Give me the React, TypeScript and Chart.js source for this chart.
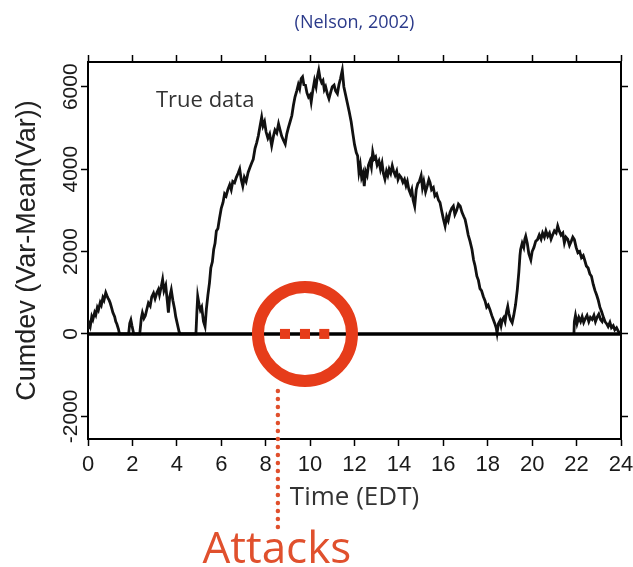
import React, { useEffect, useRef } from "react";
import { Chart, registerables } from "chart.js";

Chart.register(...registerables);

// ---------- data ----------
const chartTitle = "(Nelson, 2002)";
const xTitle = "Time (EDT)";
const yTitle = "Cumdev (Var-Mean(Var))";
const seriesLabel = "True data";
const attackLabel = "Attacks";

const xMin = 0;
const xMax = 24;
const xTicks: number[] = [0, 2, 4, 6, 8, 10, 12, 14, 16, 18, 20, 22, 24];
const yMin = -2550;
const yMax = 6600;
const yTicks: number[] = [-2000, 0, 2000, 4000, 6000];

// [hour, cumdev]
const trueData: number[][] = [
  [0, 120], [0.05, 250], [0.1, 180], [0.17, 420], [0.22, 350], [0.3, 520], [0.35, 460], [0.42, 640], [0.47, 580],
  [0.55, 760], [0.6, 700], [0.67, 880], [0.72, 820], [0.8, 1000], [0.85, 930], [0.9, 870], [0.95, 820], [1.0, 750],
  [1.07, 620], [1.12, 520], [1.2, 420], [1.25, 300], [1.3, 240], [1.37, 120], [1.42, 0],
  [1.83, 0], [1.88, 260], [1.93, 340], [1.98, 200], [2.06, 0], [2.33, 0],
  [2.4, 380], [2.45, 510], [2.52, 380], [2.58, 440], [2.65, 600], [2.72, 750], [2.8, 680], [2.87, 900], [2.95, 990],
  [3.02, 860], [3.1, 1000], [3.17, 1080], [3.22, 950], [3.3, 1150], [3.36, 1320], [3.42, 1050], [3.5, 1180],
  [3.57, 800], [3.62, 520], [3.68, 900], [3.75, 1070], [3.82, 820], [3.9, 600], [3.95, 420], [4.02, 250], [4.1, 60], [4.15, 0],
  [4.86, 0],
  [4.9, 500], [4.94, 910], [5.0, 720], [5.06, 580], [5.12, 650], [5.2, 300], [5.27, 180], [5.33, 600], [5.4, 950],
  [5.47, 1240], [5.53, 1600], [5.6, 1750], [5.66, 2050], [5.72, 2200], [5.78, 2500], [5.85, 2560], [5.92, 2800],
  [6.0, 3050], [6.08, 3190], [6.15, 3400], [6.22, 3350], [6.3, 3510], [6.38, 3620], [6.45, 3500], [6.52, 3700],
  [6.6, 3670], [6.68, 3800], [6.76, 3900], [6.83, 4000], [6.9, 3750], [6.97, 3590], [7.04, 3800], [7.12, 3700],
  [7.21, 3920], [7.3, 4050], [7.37, 4150], [7.44, 4240], [7.52, 4500], [7.6, 4650], [7.67, 4810], [7.75, 5050],
  [7.82, 5260], [7.88, 5050], [7.95, 5150], [8.02, 4900], [8.1, 4750], [8.18, 4850], [8.27, 4570], [8.35, 4800],
  [8.42, 4950], [8.5, 4880], [8.58, 5100], [8.65, 4950], [8.72, 4800], [8.8, 4700], [8.88, 4610], [8.95, 4850],
  [9.02, 5000], [9.1, 5150], [9.18, 5300], [9.25, 5550], [9.32, 5750], [9.4, 5900], [9.47, 6050], [9.53, 5950],
  [9.6, 6200], [9.66, 6240], [9.72, 6050], [9.79, 6040], [9.86, 5850], [9.93, 5750], [10.0, 5800], [10.05, 5630],
  [10.12, 5900], [10.2, 6150], [10.27, 6000], [10.33, 6250], [10.39, 6400], [10.45, 6200], [10.52, 6100],
  [10.58, 6150], [10.64, 5930], [10.7, 6000], [10.78, 5820], [10.85, 5710], [10.92, 5850], [11.0, 6000],
  [11.08, 6040], [11.15, 5900], [11.23, 5830], [11.3, 6050], [11.37, 6200], [11.45, 6400], [11.52, 6000],
  [11.6, 5800], [11.68, 5600], [11.76, 5400], [11.85, 5150], [11.93, 4850], [12.0, 4600], [12.08, 4400],
  [12.14, 4325], [12.2, 3925], [12.26, 4100], [12.32, 3800], [12.38, 3900], [12.44, 3590], [12.5, 3950],
  [12.57, 3850], [12.63, 4100], [12.7, 4200], [12.76, 4050], [12.82, 4410], [12.88, 4250], [12.95, 4300],
  [13.02, 4100], [13.1, 4200], [13.17, 4000], [13.24, 4150], [13.3, 3900], [13.37, 3755], [13.44, 3950],
  [13.5, 3850], [13.56, 4000], [13.63, 3900], [13.7, 4080], [13.76, 3950], [13.83, 3850], [13.9, 3950],
  [13.96, 3750], [14.03, 3850], [14.1, 3800], [14.18, 3680], [14.25, 3750], [14.32, 3600], [14.38, 3700],
  [14.45, 3500], [14.52, 3400], [14.58, 3500], [14.64, 3250], [14.71, 3100], [14.78, 3500], [14.85, 3650],
  [14.92, 3700], [15.0, 3840], [15.06, 3550], [15.12, 3700], [15.2, 3450], [15.28, 3600], [15.35, 3750],
  [15.4, 3680], [15.47, 3500], [15.55, 3550], [15.62, 3350], [15.7, 3400], [15.78, 3250], [15.85, 3190],
  [15.92, 3000], [16.0, 2800], [16.08, 2620], [16.15, 2850], [16.22, 2750], [16.3, 2950], [16.38, 3050],
  [16.45, 3100], [16.52, 2900], [16.6, 3000], [16.68, 3150], [16.76, 3100], [16.84, 2950], [16.92, 2850],
  [16.98, 2780], [17.05, 2600], [17.12, 2400], [17.2, 2250], [17.29, 2050], [17.36, 1800], [17.43, 1650],
  [17.51, 1400], [17.58, 1300], [17.65, 1100], [17.72, 1050], [17.8, 910], [17.88, 800], [17.95, 650],
  [18.02, 700], [18.1, 585], [18.18, 450], [18.25, 350], [18.32, 250], [18.38, 150], [18.42, 20], [18.48, 250],
  [18.55, 320], [18.6, 200], [18.65, 340], [18.72, 400], [18.78, 300], [18.85, 550], [18.9, 665], [18.95, 500],
  [19.02, 350], [19.1, 270], [19.17, 450], [19.25, 700], [19.33, 1070], [19.4, 1500], [19.45, 1900], [19.48, 2050],
  [19.55, 2200], [19.62, 2100], [19.67, 2300], [19.71, 2370], [19.78, 2200], [19.85, 1950], [19.94, 1800],
  [20.0, 2000], [20.08, 2100], [20.16, 2250], [20.24, 2290], [20.32, 2400], [20.4, 2300], [20.47, 2450],
  [20.55, 2350], [20.62, 2500], [20.7, 2370], [20.78, 2450], [20.85, 2300], [20.92, 2400], [21.0, 2500],
  [21.08, 2450], [21.15, 2620], [21.22, 2500], [21.3, 2400], [21.38, 2450], [21.45, 2210], [21.52, 2350],
  [21.6, 2300], [21.68, 2150], [21.76, 2250], [21.83, 2350], [21.9, 2290], [21.98, 2100], [22.06, 1970],
  [22.14, 2000], [22.22, 1850], [22.3, 1900], [22.36, 1800], [22.44, 1650], [22.52, 1600], [22.6, 1450],
  [22.67, 1400], [22.75, 1200], [22.83, 1050], [22.9, 950], [22.97, 830], [23.05, 650], [23.12, 550],
  [23.2, 420], [23.28, 300], [23.35, 250], [23.42, 180], [23.5, 280], [23.57, 150], [23.65, 200], [23.72, 100],
  [23.8, 150], [23.88, 60], [23.95, 40], [24.0, 0],
];

// second, overlapping trace near the end of the day
const overlapData: number[][] = [
  [21.88, 0], [21.9, 300], [21.95, 450], [22.02, 250], [22.1, 400], [22.18, 300], [22.25, 420], [22.32, 280],
  [22.4, 380], [22.47, 450], [22.55, 300], [22.62, 400], [22.7, 350], [22.78, 450], [22.85, 300], [22.92, 400],
  [23.0, 480], [23.08, 350], [23.15, 300], [23.22, 420],
];

const zeroLine: number[][] = [[0, 0], [24, 0]];

// attack markers (hours)
const attackHours: number[] = [8.87, 9.77, 10.64];
const attackRingCenter: number[] = [9.77, 0];
const attackPointerHour = 8.55;
const seriesLabelAt: number[] = [3.06, 5510];

// ---------- styles ----------
const tickFont = '"Liberation Sans", Arial, sans-serif';
const textFont = '"Open Sans", "Noto Sans", sans-serif';
const red = "#E63C1A";
const attackTextColor = "#E0502D";

const toXY = (pts: number[][]) => pts.map(([x, y]) => ({ x, y }));

const annotations = {
  id: "annotations",
  afterDatasetsDraw(chart: any) {
    const { ctx, scales } = chart;
    const sx = scales.x;
    const sy = scales.y;
    ctx.save();
    const cx = sx.getPixelForValue(attackRingCenter[0]);
    const cy = sy.getPixelForValue(attackRingCenter[1]);
    ctx.strokeStyle = red;
    ctx.lineWidth = 12;
    ctx.beginPath();
    ctx.arc(cx, cy, 47, 0, Math.PI * 2);
    ctx.stroke();
    ctx.fillStyle = "#333";
    ctx.font = `22px ${textFont}`;
    ctx.textAlign = "left";
    ctx.textBaseline = "alphabetic";
    ctx.fillText(seriesLabel, sx.getPixelForValue(seriesLabelAt[0]), sy.getPixelForValue(seriesLabelAt[1]));
    ctx.restore();
  },
  afterDraw(chart: any) {
    const { ctx, scales } = chart;
    const px = scales.x.getPixelForValue(attackPointerHour);
    ctx.save();
    ctx.strokeStyle = attackTextColor;
    ctx.lineWidth = 4.5;
    ctx.lineCap = "round";
    ctx.setLineDash([0, 8]);
    ctx.beginPath();
    ctx.moveTo(px, 391);
    ctx.lineTo(px, 528);
    ctx.stroke();
    ctx.setLineDash([]);
    ctx.fillStyle = attackTextColor;
    ctx.font = `44px ${textFont}`;
    ctx.textAlign = "center";
    ctx.textBaseline = "alphabetic";
    ctx.fillText(attackLabel, px - 1, 563);
    ctx.restore();
  },
};

const TITLE_H = 18 * 1.2 + 11 + 8;

export default function App() {
  const ref = useRef<HTMLCanvasElement>(null);
  useEffect(() => {
    if (!ref.current) return;
    const axisGrid = {
      drawOnChartArea: false,
      drawTicks: true,
      tickLength: 7,
      tickColor: "#000",
      tickWidth: 1.5,
      color: "#000",
    };
    const axisBorder = { display: true, color: "#000", width: 2 };
    const setXTicks = (s: any) => {
      s.ticks = xTicks.map((v) => ({ value: v }));
    };
    const setYTicks = (s: any) => {
      s.ticks = yTicks.map((v) => ({ value: v }));
    };
    const chart = new Chart(ref.current, {
      type: "line",
      data: {
        datasets: [
          {
            label: "attacks",
            data: attackHours.map((h) => ({ x: h, y: 0 })),
            showLine: false,
            pointStyle: "rect",
            pointRadius: 7.1,
            pointBackgroundColor: red,
            pointBorderWidth: 0,
            order: 0,
          } as any,
          {
            label: "zero",
            data: toXY(zeroLine),
            borderColor: "#000",
            borderWidth: 3.5,
            pointRadius: 0,
            order: 1,
          },
          {
            label: seriesLabel,
            data: toXY(trueData),
            borderColor: "#111",
            borderWidth: 2.8,
            pointRadius: 0,
            tension: 0,
            order: 2,
          },
          {
            label: "overlap",
            data: toXY(overlapData),
            borderColor: "#111",
            borderWidth: 2.8,
            pointRadius: 0,
            tension: 0,
            order: 2,
          },
        ],
      },
      options: {
        animation: false,
        responsive: false,
        devicePixelRatio: 1,
        layout: { padding: 0 },
        plugins: {
          legend: { display: false },
          tooltip: { enabled: false },
          title: {
            display: true,
            text: chartTitle,
            fullSize: false,
            color: "#2B3A8A",
            font: { family: textFont, size: 18, weight: "normal" },
            padding: { top: 12, bottom: 7 },
          },
        },
        scales: {
          x: {
            type: "linear",
            position: "bottom",
            min: xMin,
            max: xMax,
            afterBuildTicks: setXTicks,
            ticks: {
              autoSkip: false,
              maxRotation: 0,
              padding: 6,
              color: "#1a1a1a",
              font: { family: tickFont, size: 22 },
              callback: (v: any) => String(v),
            },
            grid: axisGrid,
            border: axisBorder,
            title: {
              display: true,
              text: xTitle,
              color: "#333",
              font: { family: textFont, size: 26 },
              padding: { top: 0, bottom: 54 },
            },
            afterFit: (s: any) => {
              s.height = 128;
              s.paddingLeft = 0;
              s.paddingRight = 0;
            },
          },
          x2: {
            type: "linear",
            axis: "x",
            position: "top",
            min: xMin,
            max: xMax,
            afterBuildTicks: setXTicks,
            ticks: { display: false },
            grid: axisGrid,
            border: axisBorder,
            afterFit: (s: any) => {
              s.height = 62 - TITLE_H;
              s.paddingLeft = 0;
              s.paddingRight = 0;
            },
          },
          y: {
            type: "linear",
            position: "left",
            min: yMin,
            max: yMax,
            afterBuildTicks: setYTicks,
            ticks: {
              autoSkip: false,
              minRotation: 90,
              maxRotation: 90,
              crossAlign: "center",
              padding: -17,
              color: "#1a1a1a",
              font: { family: tickFont, size: 21 },
              callback: (v: any) => String(v),
            },
            grid: axisGrid,
            border: axisBorder,
            title: {
              display: true,
              text: yTitle,
              color: "#222",
              font: { family: tickFont, size: 27 },
              padding: { top: 11, bottom: 0 },
            },
            afterFit: (s: any) => {
              s.width = 88;
              s.paddingTop = 0;
              s.paddingBottom = 0;
            },
          },
          y2: {
            type: "linear",
            axis: "y",
            position: "right",
            min: yMin,
            max: yMax,
            afterBuildTicks: setYTicks,
            ticks: { display: false },
            grid: axisGrid,
            border: axisBorder,
            afterFit: (s: any) => {
              s.width = 12;
              s.paddingTop = 0;
              s.paddingBottom = 0;
            },
          },
        },
      } as any,
      plugins: [annotations],
    });
    return () => chart.destroy();
  }, []);

  return (
    <div style={{ position: "fixed", left: 0, top: 0, width: 633, height: 567, background: "#fff" }}>
      <canvas ref={ref} width={633} height={567} style={{ display: "block" }} />
    </div>
  );
}
